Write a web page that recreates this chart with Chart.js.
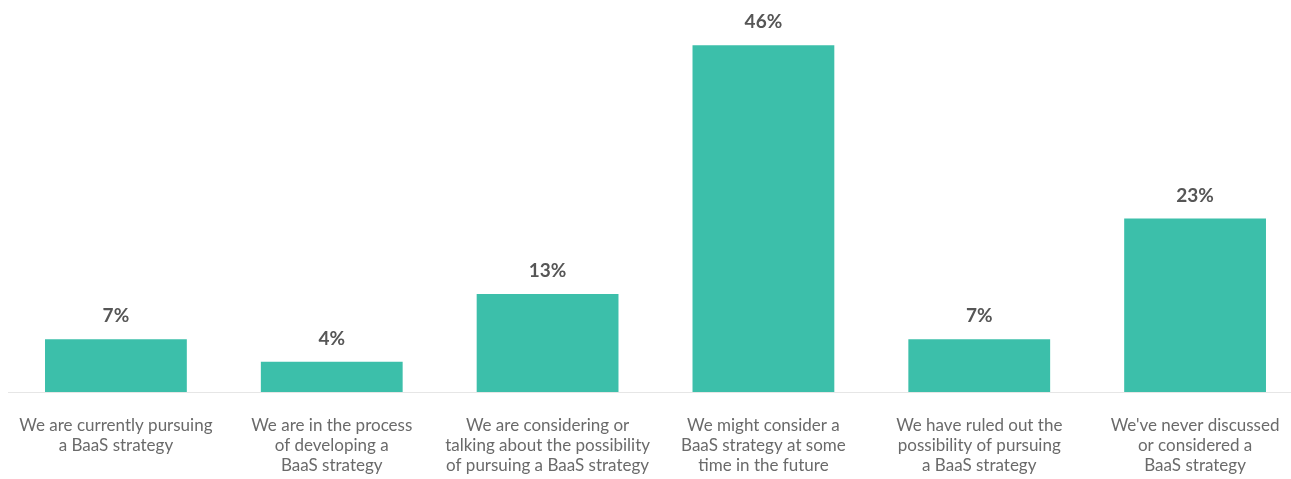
<!DOCTYPE html>
<html>
<head>
<meta charset="utf-8">
<script src="https://cdn.jsdelivr.net/npm/chart.js@4/dist/chart.umd.min.js"></script>
<style>
  html, body { margin: 0; padding: 0; background: #ffffff; overflow: hidden; }
  #wrap { position: relative; width: 1312px; height: 479px; }
</style>
</head>
<body>
<div id="wrap"><canvas id="chart"></canvas></div>
<script>
// Survey responses on Banking-as-a-Service strategy
const categories = [
  ["We are currently pursuing", "a BaaS strategy"],
  ["We are in the process", "of developing a", "BaaS strategy"],
  ["We are considering or", "talking about the possibility", "of pursuing a BaaS strategy"],
  ["We might consider a", "BaaS strategy at some", "time in the future"],
  ["We have ruled out the", "possibility of pursuing", "a BaaS strategy"],
  ["We've never discussed", "or considered a", "BaaS strategy"]
];
const shares = [7, 4, 13, 46, 7, 23];
const valueLabels = ["7%", "4%", "13%", "46%", "7%", "23%"];

const FONT = "Lato, 'Open Sans', sans-serif";

// Writes the percentage above each bar
const barValues = {
  id: "barValues",
  afterDatasetsDraw(chart) {
    const ctx = chart.ctx;
    const meta = chart.getDatasetMeta(0);
    ctx.save();
    ctx.font = "bold 19px " + FONT;
    ctx.fillStyle = "#565656";
    ctx.textAlign = "center";
    ctx.textBaseline = "alphabetic";
    meta.data.forEach((bar, i) => {
      ctx.fillText(valueLabels[i], bar.x, bar.y - 17);
    });
    ctx.restore();
  }
};

new Chart(document.getElementById("chart"), {
  type: "bar",
  data: {
    labels: categories,
    datasets: [{
      data: shares,
      backgroundColor: "#3cbfaa",
      borderWidth: 0,
      barPercentage: 0.657,
      categoryPercentage: 1.0
    }]
  },
  options: {
    responsive: true,
    maintainAspectRatio: false,
    animation: false,
    layout: { padding: { left: 8, right: 9, top: 15, bottom: 3 } },
    plugins: {
      legend: { display: false },
      tooltip: { enabled: false }
    },
    scales: {
      x: {
        grid: { display: false, drawTicks: false },
        border: { display: true, color: "#e6e6e6", width: 1 },
        ticks: {
          color: "#6a6a6a",
          font: { family: FONT, size: 17, lineHeight: 1.2 },
          padding: 23,
          maxRotation: 0,
          autoSkip: false
        },
        afterFit(scale) {
          // fixed label band; let the wide edge labels spill past the plot edges
          scale.height = 84;
          scale.paddingLeft = 0;
          scale.paddingRight = 0;
        }
      },
      y: {
        display: false,
        min: 0,
        max: 50
      }
    }
  },
  plugins: [barValues]
});
</script>
</body>
</html>
